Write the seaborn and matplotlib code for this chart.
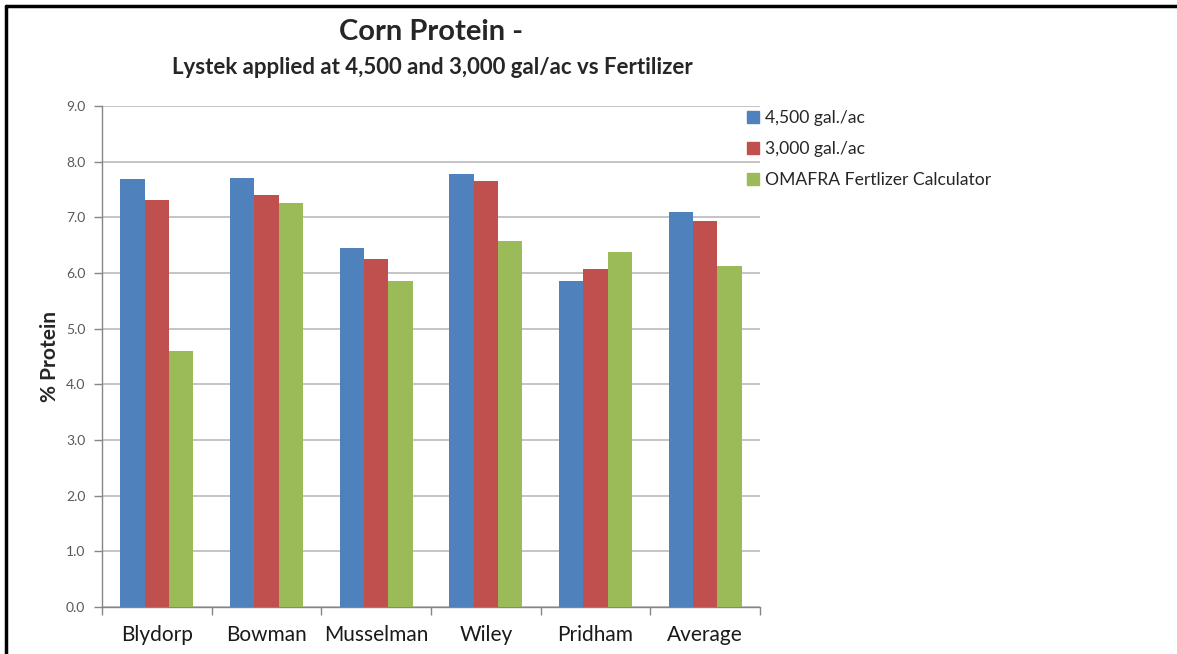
import matplotlib
matplotlib.use("Agg")
import matplotlib.pyplot as plt
import matplotlib.lines as mlines
import matplotlib.patches as mpatches
import numpy as np
import pandas as pd
import seaborn as sns

farms = ['Blydorp', 'Bowman', 'Musselman', 'Wiley', 'Pridham', 'Average']
rate_4500 = [7.68, 7.70, 6.45, 7.77, 5.86, 7.09]
rate_3000 = [7.31, 7.41, 6.25, 7.66, 6.08, 6.94]
omafra = [4.60, 7.25, 5.85, 6.57, 6.37, 6.12]
series = ['4,500 gal./ac', '3,000 gal./ac', 'OMAFRA Fertlizer Calculator']
colors = ['#4F81BD', '#C0504D', '#9BBB59']

df = pd.DataFrame({
    'farm': farms * 3,
    'value': rate_4500 + rate_3000 + omafra,
    'series': [series[0]] * 6 + [series[1]] * 6 + [series[2]] * 6,
})

sns.set_style('white')
plt.rcParams['font.family'] = ['Lato', 'DejaVu Sans']

fig = plt.figure(figsize=(11.77, 6.54), dpi=100)
ax = fig.add_axes([102 / 1177, 1 - 607 / 654, (760 - 102) / 1177, (607 - 106) / 654])

sns.barplot(data=df, x='farm', y='value', hue='series', hue_order=series,
            order=farms, palette=colors, width=0.667, gap=0, saturation=1,
            errorbar=None, ax=ax, legend=False, zorder=3, linewidth=0)

ax.set_ylim(0, 9)
ax.set_xlim(-0.5, 5.5)
ax.set_yticks(np.arange(0, 9.1, 1.0))
ax.set_yticklabels([f'{v:.1f}' for v in np.arange(0, 9.1, 1.0)], fontsize=10, color='#595959')
ax.yaxis.grid(True, color='#BFBFBF', linewidth=1.3, zorder=0)
ax.set_axisbelow(True)
ax.tick_params(axis='y', length=6, color='#868686', width=1, left=True, pad=6)
ax.set_xticks(range(len(farms)))
ax.set_xticklabels(farms, fontsize=15, color='#1a1a1a')
ax.set_xticks(np.arange(-0.5, 6, 1), minor=True)
ax.tick_params(axis='x', which='major', length=0, pad=13)
ax.tick_params(axis='x', which='minor', length=6, color='#868686', width=1, bottom=True)
for s in ['top', 'right']:
    ax.spines[s].set_visible(False)
for s in ['left', 'bottom']:
    ax.spines[s].set_color('#868686')
    ax.spines[s].set_linewidth(1)
ax.set_xlabel('')
ax.set_ylabel('% Protein', fontsize=15, fontweight='bold', labelpad=4)

fig.text(431 / 1177, 1 - 32 / 654, 'Corn Protein -', ha='center', va='center',
         fontsize=21, fontweight='bold')
fig.text(432 / 1177, 1 - 68 / 654, 'Lystek applied at 4,500 and 3,000 gal/ac vs Fertilizer',
         ha='center', va='center', fontsize=16, fontweight='bold')

handles = [mpatches.Patch(color=c, label=l) for c, l in zip(colors, series)]
fig.legend(handles=handles, loc='upper left', bbox_to_anchor=(740 / 1177, 1 - 103 / 654),
           frameon=False, fontsize=12.6, handlelength=0.7, handleheight=0.7,
           handletextpad=0.35, labelspacing=0.85, borderaxespad=0)

# page frame
fig.add_artist(mlines.Line2D([6 / 1177, 6 / 1177], [0, 1 - 6 / 654], color='black', linewidth=2.5))
fig.add_artist(mlines.Line2D([6 / 1177, 1], [1 - 6 / 654, 1 - 6 / 654], color='black', linewidth=2.5))

fig.savefig('out.png', dpi=100)
